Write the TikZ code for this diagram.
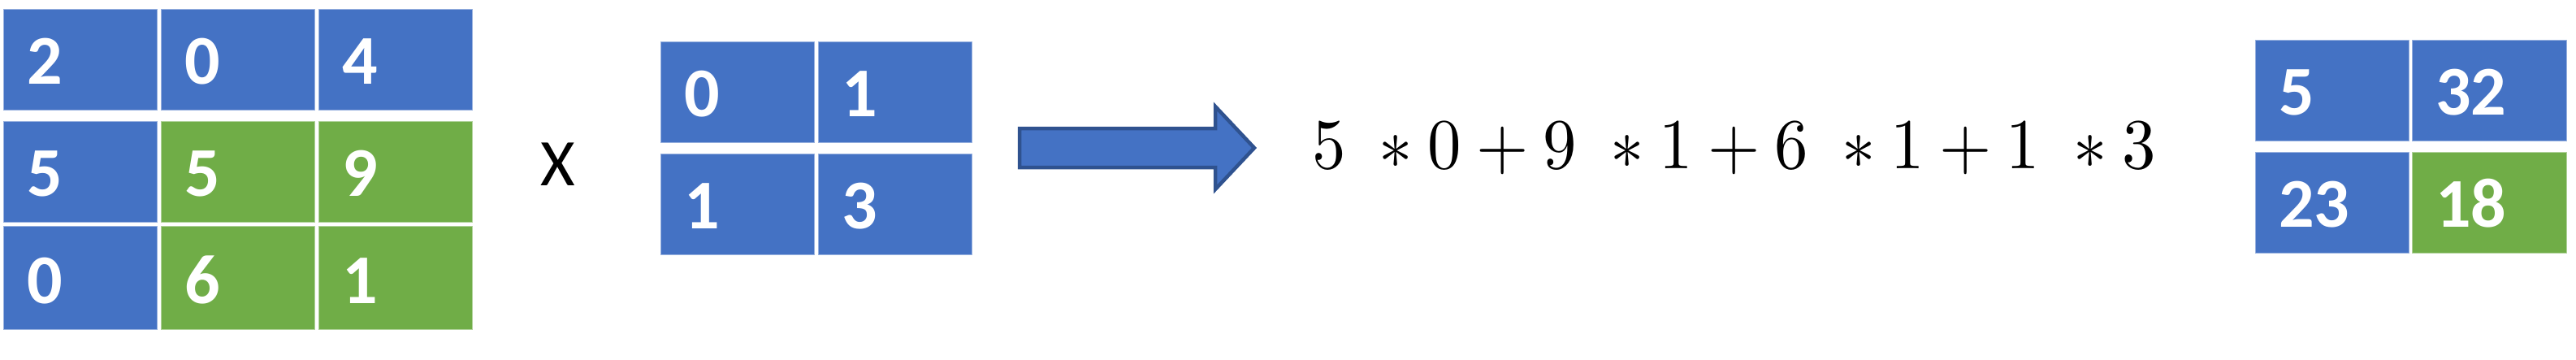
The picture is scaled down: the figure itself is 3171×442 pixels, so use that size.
\documentclass[tikz,border=0pt]{standalone}
\usepackage{fontspec}
\usepackage{graphicx}
\newfontfamily\calib{Carlito}
\newfontfamily\calibb{Carlito}[UprightFont=*-Bold]
\definecolor{cblue}{HTML}{4472C4}
\definecolor{cgreen}{HTML}{70AD47}
\definecolor{cdark}{HTML}{2F528F}
\tikzset{
  cellbox/.style={line width=1pt},
  celltext/.style={font=\calibb\fontsize{86}{100}\selectfont, text=white, inner sep=0pt},
  bigarrow/.style={fill=cblue, draw=cdark, line width=4.5pt, line join=miter},
}
% name x0 y0 x1 y1 colour text
\newcommand\mcell[7]{%
  \path[cellbox, fill=#6, draw=#6!55!white] (#2,#3) rectangle (#4,#5);
  \node[celltext, anchor=base west] (#1) at ({#2+29},{#5-32}) {#7};
}
\begin{document}
\begin{tikzpicture}[x=1pt,y=-1pt]
\useasboundingbox (0,0) rectangle (3171,442);
% input matrix
\mcell{a11}{4.7}{11}{193.7}{135}{cblue}{2}
\mcell{a12}{198}{11}{387.7}{135}{cblue}{0}
\mcell{a13}{392}{11}{581}{135}{cblue}{4}
\mcell{a21}{4.7}{149}{193.7}{273.3}{cblue}{5}
\mcell{a22}{198}{149}{387.7}{273.3}{cgreen}{5}
\mcell{a23}{392}{149}{581}{273.3}{cgreen}{9}
\mcell{a31}{4.7}{278.3}{193.7}{405.3}{cblue}{0}
\mcell{a32}{198}{278.3}{387.7}{405.3}{cgreen}{6}
\mcell{a33}{392}{278.3}{581}{405.3}{cgreen}{1}
% times sign
\node[anchor=base west, inner sep=0pt, font=\calib\fontsize{82}{100}\selectfont] (times) at (665,228) {X};
% kernel
\mcell{k11}{813}{51}{1002}{175}{cblue}{0}
\mcell{k12}{1007}{51}{1196}{175}{cblue}{1}
\mcell{k21}{813}{189}{1002}{313}{cblue}{1}
\mcell{k22}{1007}{189}{1196}{313}{cblue}{3}
% block arrow
\draw[bigarrow] (1255,158) -- (1496,158) -- (1496,131) -- (1544,182) -- (1496,233) -- (1496,206) -- (1255,206) -- cycle;
% equation
\node[anchor=base west, inner sep=0pt] (eq) at (1615,207)
  {\scalebox{8.27}[8.8]{$5\;\ast 0+9\;\ast 1+6\;\ast 1+1\;\ast 3$}};
% result
\mcell{r11}{2776}{49}{2965}{173}{cblue}{5}
\mcell{r12}{2969}{49}{3159}{173}{cblue}{32}
\mcell{r21}{2776}{187}{2965}{311}{cblue}{23}
\mcell{r22}{2969}{187}{3159}{311}{cgreen}{18}
\end{tikzpicture}
\end{document}
